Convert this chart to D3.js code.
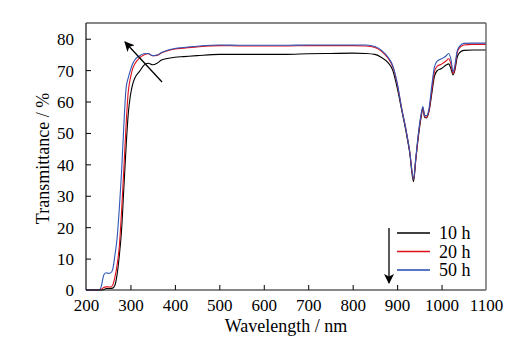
<!DOCTYPE html>
<html><head><meta charset="utf-8">
<script src="https://cdn.jsdelivr.net/npm/d3@7"></script>
<style>body{margin:0;background:#fff}svg{display:block}</style>
</head><body><svg id="c" width="526" height="344"></svg>
<script>
const wavelengths = [200,230,235,240,245,250,255,260,265,270,275,280,285,290,295,300,305,310,320,330,340,350,360,370,380,400,420,450,500,550,600,650,700,750,800,830,850,865,880,890,900,910,920,928,937,942,948,954,958,962,966,972,978,984,990,1000,1010,1016,1021,1026,1030,1035,1040,1050,1070,1100];
const t10h = [0,0,0,0.1,0.5,0.5,0.5,0.6,1.5,5,11,19,32,45,56,62,65.5,67.5,69.5,71.5,72.2,71.7,72.2,73.2,73.6,74.1,74.3,74.6,75,75,75,75,75.2,75.3,75.4,75.3,75,74,72.3,70,64.5,57.5,50.5,44,34.5,41.5,49,55,57.8,55,54.8,57,62.5,68,69.8,70.5,71.6,72,70.5,68.5,70,74,75.5,76.3,76.4,76.4];
const t20h = [0,0,0.3,0.8,1,1,0.9,1.5,4,8,14,25,38,52,63,67.5,70.5,72,73.8,74.8,75.2,74.6,74.7,75.5,76,76.7,77,77.4,77.8,77.7,77.7,77.7,77.8,77.8,77.8,77.7,77.2,76,73.7,71.2,65.8,58,51,44.5,35.3,41.5,49.5,55.5,58,55.2,55,57.3,63.5,69.5,71.2,71.9,72.9,73.6,72,69,70.5,75.5,77,78,78.2,78.2];
const t50h = [0,0,1.5,4.8,5.5,5.3,5.4,6.5,11,16.5,26,37.5,52,64,67.5,70,72,73.3,74.5,75.2,75.3,74.6,74.8,75.6,76.2,76.9,77.2,77.6,78,77.9,77.9,77.9,78,78,78,78,77.5,76.3,74,71.5,66,58,51,44.5,35.5,42,50,56,58.4,55.5,55.5,58,65,71,72.8,73.6,74.5,75.3,73.5,69.5,71.5,76,77.5,78.5,78.6,78.6];
const seriesNames = ["10 h","20 h","50 h"];
const seriesColors = ["#000000","#e0101a","#2f55b5"];
const xTicks = [200,300,400,500,600,700,800,900,1000,1100];
const yTicks = [0,10,20,30,40,50,60,70,80];

const FONT = "Liberation Serif";
const svg = d3.select("#c");
const L=86,R=486,T=23,B=290;
const x = d3.scaleLinear().domain([200,1100]).range([L,R]);
const y = d3.scaleLinear().domain([0,85]).range([B,T]);

const defs = svg.append("defs");
defs.append("marker").attr("id","ah").attr("viewBox","0 0 10 10").attr("refX",9).attr("refY",5)
  .attr("markerWidth",10).attr("markerHeight",10).attr("markerUnits","userSpaceOnUse").attr("orient","auto")
  .append("path").attr("d","M0,0 L10,5 L0,10 L2.5,5 Z").attr("fill","#000");

const data = [t10h,t20h,t50h];
const line = d3.line().x((d,i)=>x(wavelengths[i])).y(d=>y(d)).curve(d3.curveMonotoneX);
const g = svg.append("g");
data.forEach((s,k)=>{
  g.append("path").attr("d",line(s)).attr("fill","none").attr("stroke",seriesColors[k]).attr("stroke-width",1.1);
});

// axes
const fs = 17;
const xa = svg.append("g").attr("transform",`translate(0,${B})`)
  .call(d3.axisBottom(x).tickValues(xTicks).tickFormat(d3.format("d")).tickSizeInner(-5).tickSizeOuter(0).tickPadding(9));
const ya = svg.append("g").attr("transform",`translate(${L},0)`)
  .call(d3.axisLeft(y).tickValues(yTicks).tickFormat(d3.format("d")).tickSizeInner(-5).tickSizeOuter(0).tickPadding(12));
[xa,ya].forEach(a=>{a.attr("font-family",FONT).attr("font-size",fs);a.select(".domain").remove();a.selectAll("line").attr("stroke","#000");a.selectAll("text").attr("font-family",FONT).attr("font-size",fs).attr("fill","#000");});
xa.selectAll(".tick").filter(d=>d===200||d===1100).select("line").remove();
ya.selectAll(".tick").filter(d=>d===0).select("line").remove();
ya.selectAll("text").attr("dy","0.35em");

// frame
svg.append("line").attr("x1",L).attr("x2",R).attr("y1",T).attr("y2",T).attr("stroke","#111").attr("stroke-width",1.2);
svg.append("line").attr("x1",L).attr("x2",R).attr("y1",B).attr("y2",B).attr("stroke","#111").attr("stroke-width",1.2);
svg.append("line").attr("x1",L).attr("x2",L).attr("y1",T).attr("y2",B).attr("stroke","#111").attr("stroke-width",1.2);
svg.append("line").attr("x1",R).attr("x2",R).attr("y1",T).attr("y2",B).attr("stroke","#666").attr("stroke-width",1.4);

svg.append("text").attr("x",(L+R)/2).attr("y",332).attr("text-anchor","middle").attr("font-family",FONT).attr("font-size",18).text("Wavelength / nm");
svg.append("text").attr("transform",`translate(49,${(T+B)/2+2}) rotate(-90)`).attr("text-anchor","middle").attr("font-family",FONT).attr("font-size",18).text("Transmittance / %");

// arrows
svg.append("line").attr("x1",162).attr("y1",82).attr("x2",125).attr("y2",42).attr("stroke","#000").attr("stroke-width",1.3).attr("marker-end","url(#ah)");
svg.append("line").attr("x1",389).attr("y1",228).attr("x2",389).attr("y2",283).attr("stroke","#000").attr("stroke-width",1.3).attr("marker-end","url(#ah)");

// legend
const lg = svg.append("g");
seriesNames.forEach((n,k)=>{
  const yy = 233 + k*18.5;
  lg.append("line").attr("x1",397).attr("x2",430).attr("y1",yy).attr("y2",yy).attr("stroke",seriesColors[k]).attr("stroke-width",k===2?2:1.3).attr("opacity",k===2?0.8:1);
  lg.append("text").attr("x",439).attr("y",yy).attr("dy","0.35em").attr("font-family",FONT).attr("font-size",18).text(n);
});
</script></body></html>
